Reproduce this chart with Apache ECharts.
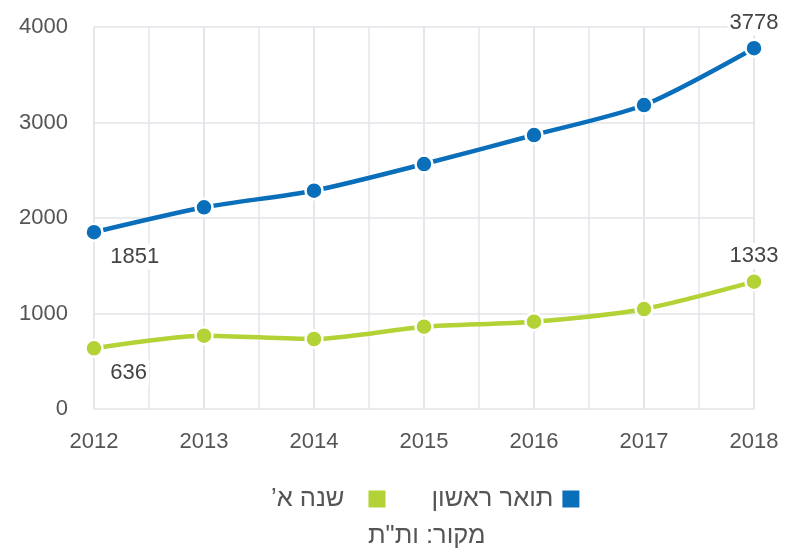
<!DOCTYPE html>
<html>
<head>
<meta charset="utf-8">
<script src="https://cdn.jsdelivr.net/npm/echarts@6/dist/echarts.min.js"></script>
<style>html,body{margin:0;padding:0;background:#fff}#c{width:785px;height:555px}</style>
</head>
<body>
<div id="c"></div>
<script>
const years = ['2012','2013','2014','2015','2016','2017','2018'];
const bachelor = [1851, 2112, 2286, 2565, 2869, 3183, 3778];
const firstYear = [636, 768, 733, 862, 914, 1047, 1333];
const yTicks = [0, 1000, 2000, 3000, 4000];
const nameBachelor = 'תואר ראשון';
const nameFirstYear = 'שנה א\u2019\u200F';
const sourceText = 'מקור: ות"ת';

const FONT = '"Liberation Sans", Arial, sans-serif';
const BLUE = '#0a6fba';
const GREEN = '#b2d235';

function labelFor(idx, n) {
  if (idx === 0) return { show: true, position: [24, 21], formatter: '{c}' };
  if (idx === n - 1) return { show: true, position: 'top', distance: 3, formatter: '{c}' };
  return { show: false };
}
function mkData(arr) {
  return arr.map((v, i) => ({ value: v, label: labelFor(i, arr.length) }));
}

const chart = echarts.init(document.getElementById('c'), null, { renderer: 'canvas' });
chart.setOption({
  animation: false,
  backgroundColor: '#fff',
  textStyle: { fontFamily: FONT },
  grid: { left: 94, right: 31, top: 27, bottom: 146 },
  xAxis: [{
    type: 'category',
    data: years,
    boundaryGap: false,
    axisLine: { show: false },
    axisTick: { show: false },
    splitLine: { show: true, lineStyle: { color: '#e3e4e8', width: 1.5 } },
    axisLabel: { color: '#555', fontSize: 22, margin: 22, fontFamily: FONT }
  }, {
    type: 'value',
    min: 0, max: 12, interval: 1,
    position: 'bottom',
    axisLine: { show: false },
    axisTick: { show: false },
    axisLabel: { show: false },
    splitLine: { show: true, lineStyle: { color: '#e3e4e8', width: 1.5 } }
  }],
  yAxis: {
    type: 'value',
    min: yTicks[0], max: yTicks[yTicks.length - 1], interval: 1000,
    axisLine: { show: false },
    axisTick: { show: false },
    splitLine: { lineStyle: { color: '#e3e4e8', width: 1.5 } },
    axisLabel: { color: '#555', fontSize: 22, margin: 26, fontFamily: FONT, formatter: v => String(v) }
  },
  legend: {
    data: [
      { name: nameFirstYear, textStyle: { padding: [0, 18, 0, 0] } },
      { name: nameBachelor, textStyle: { padding: [0, 3, 0, 0] } }
    ],
    top: 481,
    left: 266,
    align: 'right',
    itemGap: 44,
    itemWidth: 19,
    itemHeight: 19,
    icon: 'rect',
    textStyle: { color: '#555', fontSize: 25.5, fontFamily: FONT }
  },
  title: {
    text: sourceText,
    left: 368,
    top: 523,
    padding: 0,
    textStyle: { color: '#555', fontSize: 25.5, fontWeight: 'normal', fontFamily: FONT }
  },
  series: [{
    name: nameBachelor,
    type: 'line',
    data: mkData(bachelor),
    smooth: 0.25,
    symbol: 'circle',
    symbolSize: 17,
    color: BLUE,
    lineStyle: { width: 4.5, color: BLUE },
    itemStyle: { color: BLUE, borderColor: '#fff', borderWidth: 2.5 },
    label: { color: '#444', fontSize: 22, fontFamily: FONT, backgroundColor: '#fff', padding: [2, 2] },
    z: 3
  }, {
    name: nameFirstYear,
    type: 'line',
    data: mkData(firstYear),
    smooth: 0.25,
    symbol: 'circle',
    symbolSize: 17,
    color: GREEN,
    lineStyle: { width: 4.5, color: GREEN },
    itemStyle: { color: GREEN, borderColor: '#fff', borderWidth: 2.5 },
    label: { color: '#444', fontSize: 22, fontFamily: FONT, backgroundColor: '#fff', padding: [2, 2] },
    z: 3
  }]
});
</script>
</body>
</html>
